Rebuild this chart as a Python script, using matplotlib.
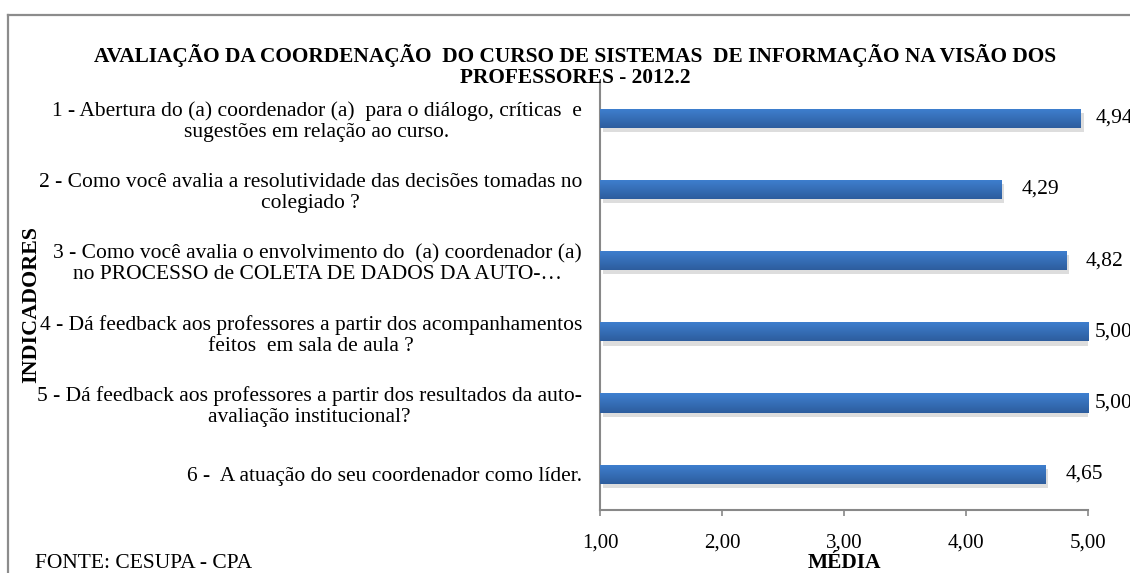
import numpy as np
import matplotlib
matplotlib.use("Agg")
import matplotlib.pyplot as plt
from matplotlib.lines import Line2D
from matplotlib.transforms import ScaledTranslation
from matplotlib.colors import LinearSegmentedColormap

# ---- Data ----
categories = [
    "1 - Abertura do (a) coordenador (a)  para o diálogo, críticas  e\nsugestões em relação ao curso.",
    "2 - Como você avalia a resolutividade das decisões tomadas no\ncolegiado ?",
    "3 - Como você avalia o envolvimento do  (a) coordenador (a)\nno PROCESSO de COLETA DE DADOS DA AUTO-…",
    "4 - Dá feedback aos professores a partir dos acompanhamentos\nfeitos  em sala de aula ?",
    "5 - Dá feedback aos professores a partir dos resultados da auto-\navaliação institucional?",
    "6 -  A atuação do seu coordenador como líder.",
]
values = [4.94, 4.29, 4.82, 5.00, 5.00, 4.65]
xticks = [1, 2, 3, 4, 5]
xtick_labels = ["1,00", "2,00", "3,00", "4,00", "5,00"]

plt.rcParams["font.family"] = ["Liberation Serif", "DejaVu Serif"]

fig = plt.figure(figsize=(11.3, 5.73), dpi=100)
ax = fig.add_axes([0.531, 0.110, 0.432, 0.746])

y = np.arange(len(categories))
widths = [v - 1 for v in values]

# soft shadow under each bar (offset a couple of pixels down-right)
shadow_tr = ax.transData + ScaledTranslation(2 / 72, -3 / 72, fig.dpi_scale_trans)
ax.barh(y, widths, left=1, height=0.27, color="#8f8f8f", alpha=0.3,
        transform=shadow_tr, zorder=2)

bars = ax.barh(y, widths, left=1, height=0.27, color="#3a72bd", zorder=3)

# vertical gradient like the Excel bars: lighter on top, darker below
grad = np.linspace(1, 0, 64).reshape(-1, 1)
cmap = LinearSegmentedColormap.from_list("bluegrad", ["#2d5d9e", "#3f80d0"])
for b in bars:
    x0, y0 = b.get_x(), b.get_y()
    im = ax.imshow(grad, extent=[x0, x0 + b.get_width(), y0 + b.get_height(), y0],
                   cmap=cmap, aspect="auto", origin="upper", zorder=4)
    im.set_clip_path(b)

ax.set_xlim(1, 5)
ax.set_ylim(len(categories) - 0.5, -0.5)

ax.set_yticks(y)
ax.set_yticklabels(categories, fontsize=15.5, multialignment="center", linespacing=1.15)
ax.tick_params(axis="y", length=0, pad=13)
ax.set_xticks(xticks)
ax.set_xticklabels(xtick_labels, fontsize=15)
ax.tick_params(axis="x", length=4, color="#888888", width=1.2, pad=13)

for s in ["top", "right"]:
    ax.spines[s].set_visible(False)
for s in ["left", "bottom"]:
    ax.spines[s].set_color("#888888")
    ax.spines[s].set_linewidth(1.5)

# value labels (Excel pushes them in at the plot edge)
for v, yy in zip(values, y):
    ax.text(min(v + 0.163, 5.057), yy, f"{v:.2f}".replace(".", ","),
            va="center", ha="left", fontsize=15.5, clip_on=False)

ax.set_xlabel("MÉDIA", fontsize=15.5, fontweight="bold", labelpad=0)

fig.text(0.509, 0.885, "AVALIAÇÃO DA COORDENAÇÃO  DO CURSO DE SISTEMAS  DE INFORMAÇÃO NA VISÃO DOS\nPROFESSORES - 2012.2",
         ha="center", va="center", fontsize=15.4, fontweight="bold",
         multialignment="center", linespacing=1.05)
fig.text(0.028, 0.468, "INDICADORES", rotation=90, ha="center", va="center",
         fontsize=15.8, fontweight="bold")
fig.text(0.031, 0.017, "FONTE: CESUPA - CPA", ha="left", va="center", fontsize=15.5)

# outer frame (only top and left visible in the crop)
fig.add_artist(Line2D([0.007, 1.0], [0.974, 0.974], transform=fig.transFigure,
                      color="#8c8c8c", lw=1.6))
fig.add_artist(Line2D([0.007, 0.007], [0.0, 0.974], transform=fig.transFigure,
                      color="#8c8c8c", lw=1.6))

fig.savefig("out.png", dpi=100)
